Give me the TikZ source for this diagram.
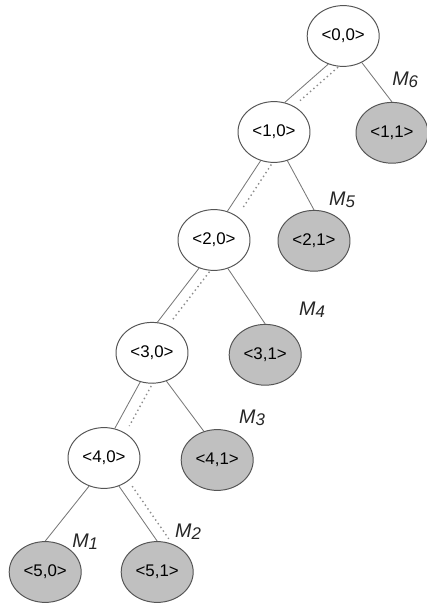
\documentclass[tikz,border=0pt]{standalone}
\usepackage{fontspec}
\setmainfont{Liberation Sans}
\usepackage{tikz}
\usetikzlibrary{backgrounds,shapes.geometric}
\definecolor{rimgray}{RGB}{85,85,85}
\definecolor{edgegray}{RGB}{120,120,120}
\definecolor{leafgray}{RGB}{192,192,192}
\definecolor{dotgray}{RGB}{140,140,140}
\newcommand{\mlab}[1]{\textit{M\raisebox{-1.5pt}{\fontsize{12}{12}\selectfont #1}}}

\begin{document}
\begin{tikzpicture}[
  state/.style={ellipse,draw=rimgray,fill=white,line width=.7pt,
    minimum width=1.8cm,minimum height=1.52cm,inner sep=0pt,
    font=\fontsize{12}{14}\selectfont},
  leaf/.style={state,fill=leafgray},
  edge/.style={draw=edgegray,line width=.6pt},
  pathedge/.style={draw=dotgray,line width=1pt,dash pattern=on 1pt off 2.2pt,
    shorten >=2pt},
  mlabel/.style={font=\fontsize{14}{16}\selectfont,text=black!85}
]
\useasboundingbox (0,0) rectangle (10.675,15.2);

% states
\node[state] (s00) at (8.58,14.30) {<0,0>};
\node[state] (s10) at (6.85,11.90) {<1,0>};
\node[leaf]  (s11) at (9.80,11.88) {<1,1>};
\node[state] (s20) at (5.35,9.20)  {<2,0>};
\node[leaf]  (s21) at (7.85,9.18)  {<2,1>};
\node[state] (s30) at (3.80,6.38)  {<3,0>};
\node[leaf]  (s31) at (6.63,6.33)  {<3,1>};
\node[state] (s40) at (2.60,3.75)  {<4,0>};
\node[leaf]  (s41) at (5.43,3.70)  {<4,1>};
\node[leaf]  (s50) at (1.13,0.90)  {<5,0>};
\node[leaf]  (s51) at (3.93,0.90)  {<5,1>};

% labels
\node[mlabel] (m6) at (10.13,13.20) {\mlab{6}};
\node[mlabel] (m5) at (8.55,10.20)  {\mlab{5}};
\node[mlabel] (m4) at (7.80,7.45)   {\mlab{4}};
\node[mlabel] (m3) at (6.30,4.75)   {\mlab{3}};
\node[mlabel] (m2) at (4.70,1.90)   {\mlab{2}};
\node[mlabel] (m1) at (2.13,1.65)   {\mlab{1}};

\begin{scope}[on background layer]
  % tree edges
  \draw[edge] (s00.-118)--(s10.70);
  \draw[edge] (s00.-55)--(s11.north);
  \draw[edge] (s10.-115)--(s20.65);
  \draw[edge] (s10.-65)--(s21.north);
  \draw[edge] (s20.-118)--(s30.80);
  \draw[edge] (s20.-64)--(s31.north);
  \draw[edge] (s30.-112)--(s40.70);
  \draw[edge] (s30.-63)--(s41.115);
  \draw[edge] (s40.-118)--(s50.north);
  \draw[edge] (s40.-62)--(s51.north);

  % path to M2
  \draw[pathedge] ([xshift=3.3mm]s00.-118)--([xshift=3.3mm]s10.70);
  \draw[pathedge] ([xshift=3.3mm]s10.-115)--([xshift=3.3mm]s20.65);
  \draw[pathedge] ([xshift=3.3mm]s20.-118)--([xshift=3.3mm]s30.80);
  \draw[pathedge] ([xshift=3.3mm]s30.-112)--([xshift=3.3mm]s40.70);
  \draw[pathedge] ([xshift=3.3mm]s40.-62)--([xshift=3.3mm]s51.north);
\end{scope}

\end{tikzpicture}
\end{document}
